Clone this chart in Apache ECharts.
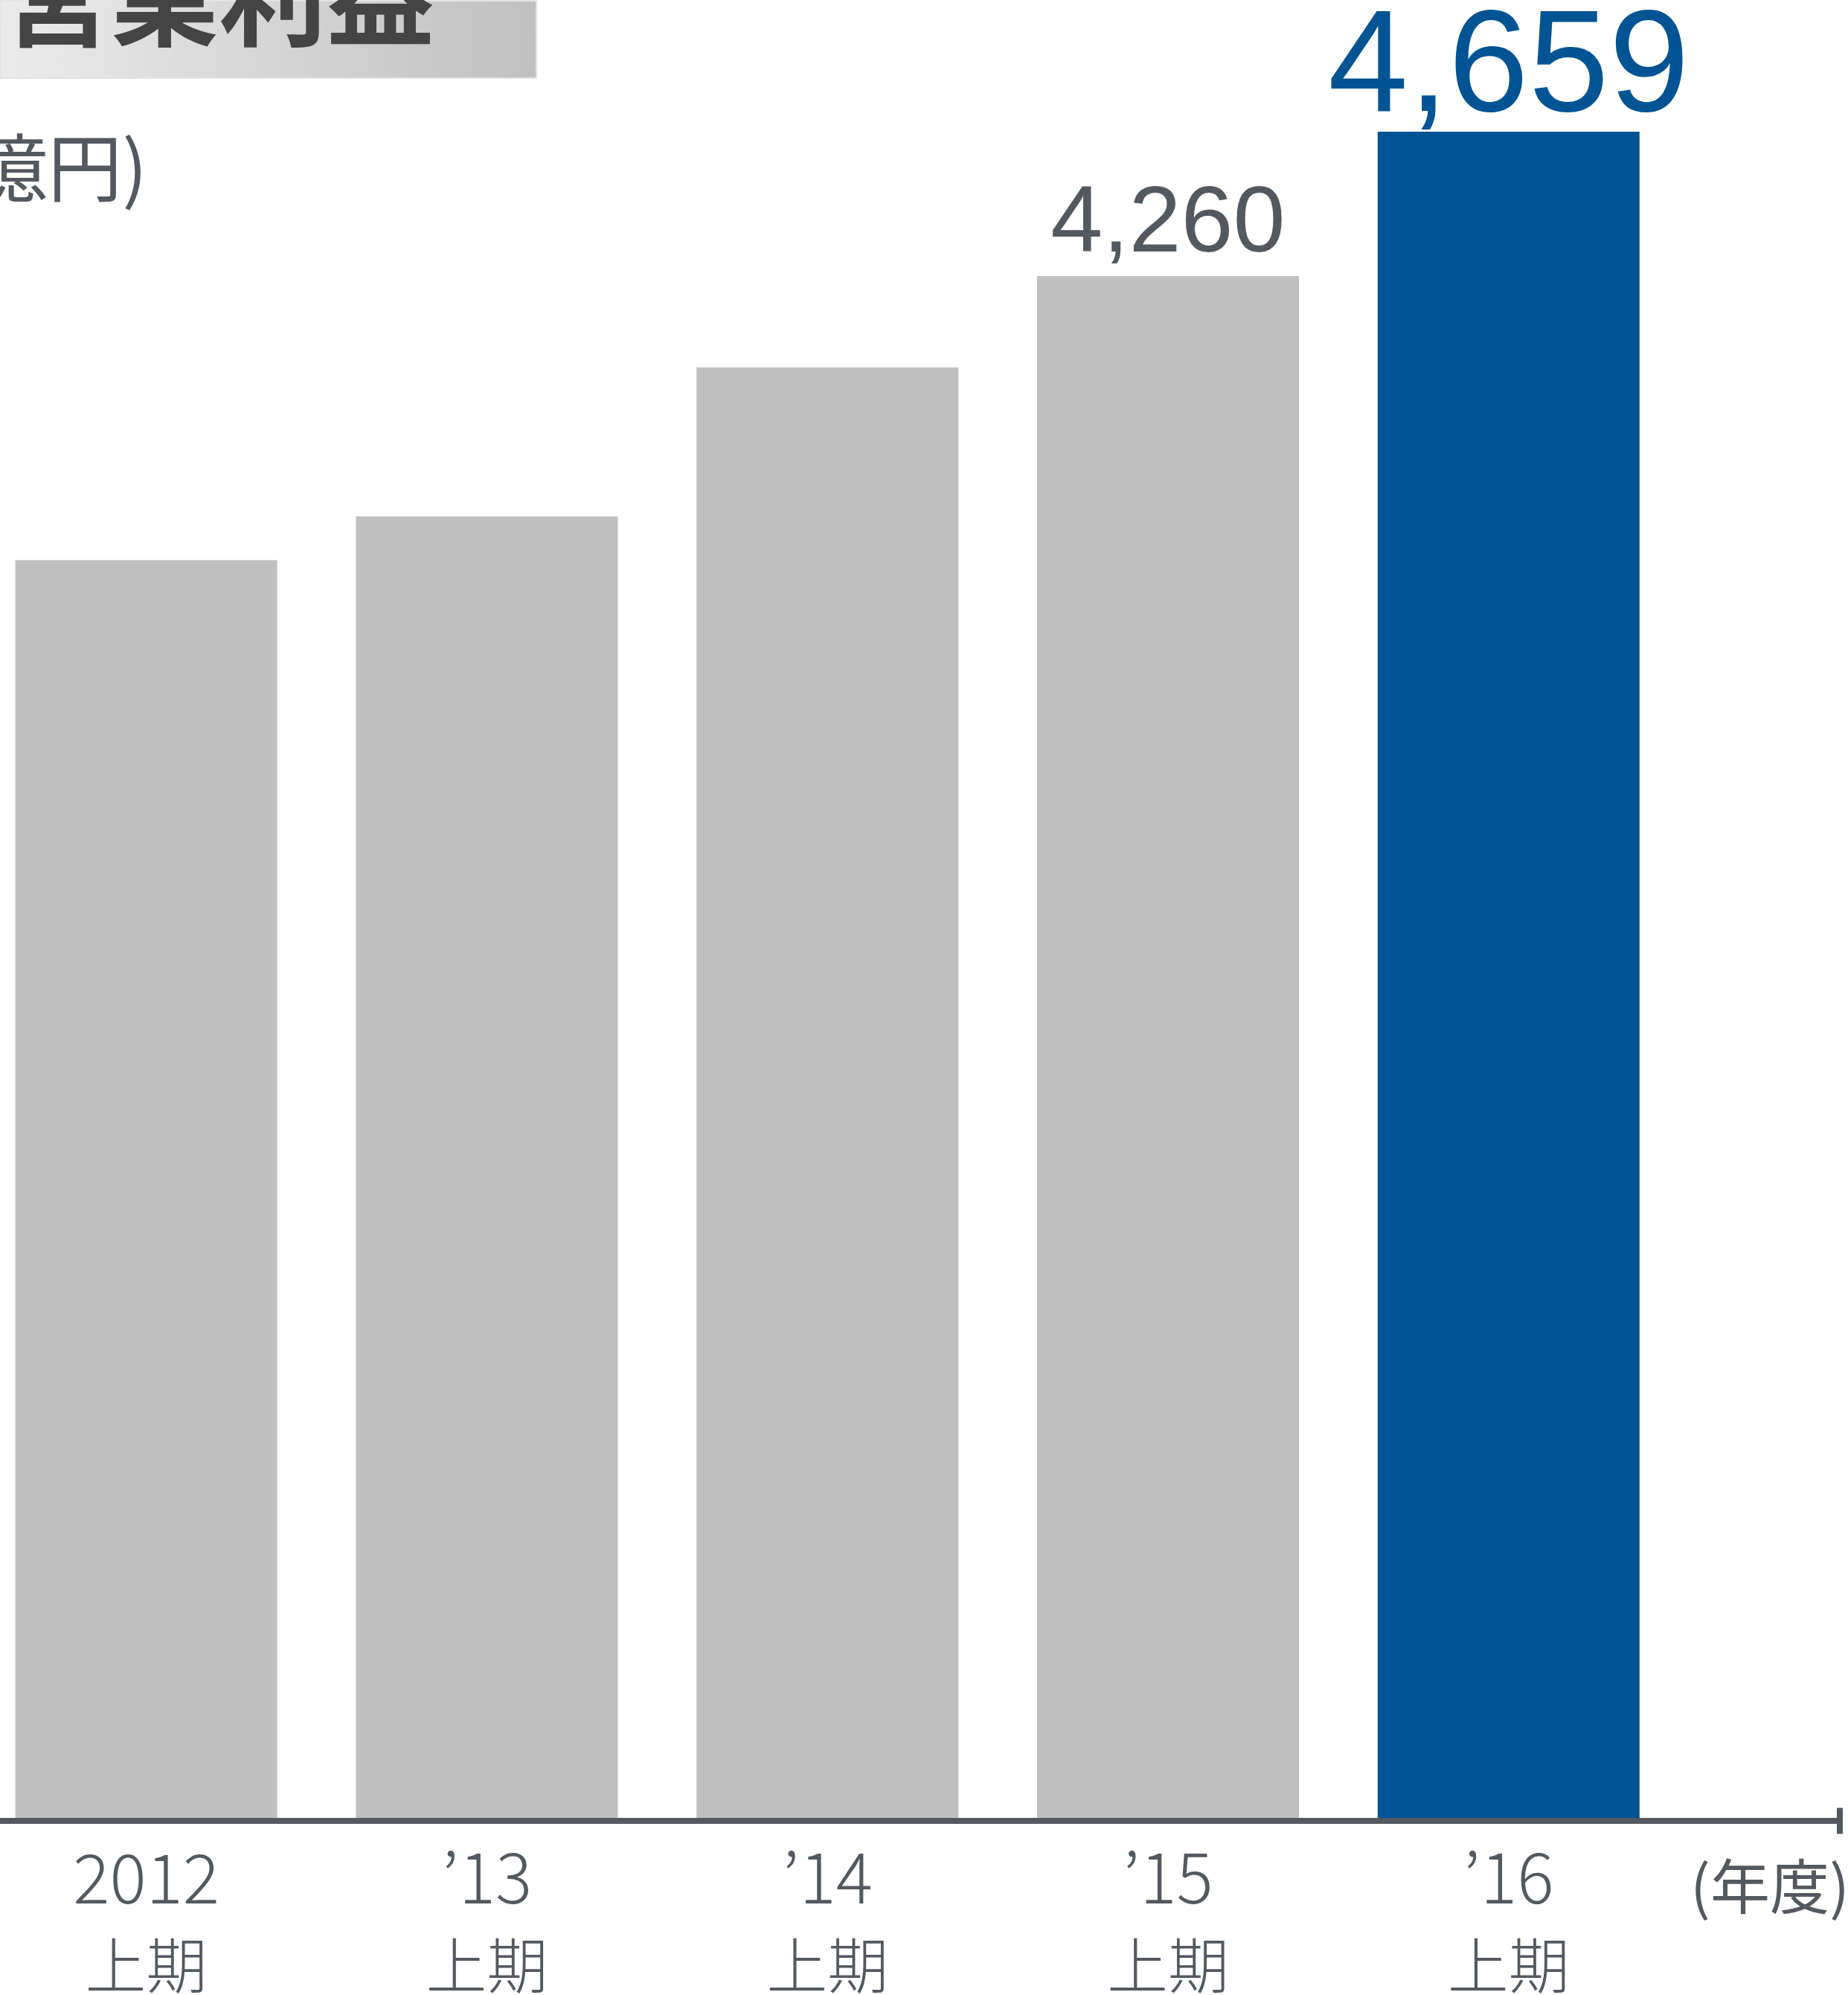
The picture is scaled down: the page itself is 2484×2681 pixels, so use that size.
<!DOCTYPE html>
<html>
<head>
<meta charset="utf-8">
<style>
  html, body { margin: 0; padding: 0; background: #ffffff; }
  #chart { width: 2484px; height: 2681px; }
</style>
<script src="https://cdn.jsdelivr.net/npm/echarts@6/dist/echarts.min.js"></script>
</head>
<body>
<div id="chart"></div>
<script>
// 営業利益（上期）, 単位: 億円
const years = ['2012', '’13', '’14', '’15', '’16'];
const halves = ['上期', '上期', '上期', '上期', '上期'];
const profits = [3475, 3596, 4008, 4260, 4659];
const labelledBars = [3, 4];        // bars that carry a value label
const highlightBar = 4;             // latest period, drawn in blue

const GRAY = '#bfbfbf';
const BLUE = '#005494';
const TEXT = '#54585f';
const JP = '"Noto Sans CJK JP", "Noto Sans", sans-serif';
const NUM = '"Liberation Sans", Arial, sans-serif';

const fmt = v => Number(v).toLocaleString('en-US');

const barData = profits.map((v, i) => {
  const hi = i === highlightBar;
  const item = { value: v, itemStyle: { color: hi ? BLUE : GRAY } };
  if (labelledBars.includes(i)) {
    item.label = {
      show: true,
      position: 'top',
      distance: hi ? -15 : 5,
      fontFamily: NUM,
      fontSize: hi ? 194 : 126,
      color: hi ? BLUE : TEXT,
      formatter: p => fmt(p.value)
    };
  }
  return item;
});

const chart = echarts.init(document.getElementById('chart'), null, { renderer: 'canvas' });

chart.setOption({
  backgroundColor: '#ffffff',
  animation: false,
  grid: [
    { left: -32.3, width: 2289, top: 177, bottom: 238, outerBoundsMode: 'none', containLabel: false },
    { left: 0, right: 11, top: 177, bottom: 234, outerBoundsMode: 'none', containLabel: false }
  ],
  xAxis: [
    {
      type: 'category',
      gridIndex: 0,
      data: years,
      axisLine: { show: false },
      axisTick: { show: false },
      axisLabel: {
        margin: 21,
        formatter: (v, i) => `{y|${v}}\n{p|${halves[i]}}`,
        rich: {
          y: { fontFamily: JP, fontWeight: 300, fontSize: 92, lineHeight: 118, color: TEXT },
          p: { fontFamily: JP, fontWeight: 300, fontSize: 82, lineHeight: 118, color: TEXT }
        }
      }
    },
    {
      type: 'value',
      gridIndex: 1,
      min: 0,
      max: 1,
      axisLine: {
        show: true,
        onZero: false,
        lineStyle: { color: TEXT, width: 8 },
        symbol: ['none', 'rect'],
        symbolSize: [35, 8]
      },
      axisTick: { show: false },
      axisLabel: { show: false },
      splitLine: { show: false }
    }
  ],
  yAxis: [
    { type: 'value', gridIndex: 0, min: 0, max: 4659, show: false },
    { type: 'value', gridIndex: 1, min: 0, max: 1, show: false }
  ],
  series: [
    {
      type: 'bar',
      xAxisIndex: 0,
      yAxisIndex: 0,
      barWidth: 352,
      data: barData
    }
  ],
  graphic: [
    {
      type: 'rect',
      left: 0,
      top: 0,
      shape: { width: 720, height: 104 },
      style: {
        fill: new echarts.graphic.LinearGradient(0, 0, 1, 0, [
          { offset: 0, color: '#ebebeb' },
          { offset: 1, color: '#c0c0c0' }
        ]),
        stroke: '#e4e4e4',
        lineWidth: 2
      },
      z: 1
    },
    {
      type: 'text',
      x: 4,
      y: -4,
      style: {
        text: '営業利益',
        fontFamily: JP,
        fontWeight: 'bold',
        fontSize: 145,
        fill: '#444444',
        align: 'left',
        verticalAlign: 'middle'
      },
      z: 2
    },
    {
      type: 'text',
      x: 198,
      y: 225,
      style: {
        text: '(億円)',
        fontFamily: JP,
        fontSize: 100,
        fill: TEXT,
        align: 'right',
        verticalAlign: 'middle'
      }
    },
    {
      type: 'text',
      x: 2486,
      y: 2535,
      style: {
        text: '(年度)',
        fontFamily: JP,
        fontSize: 80,
        fill: TEXT,
        align: 'right',
        verticalAlign: 'middle'
      }
    }
  ]
});
</script>
</body>
</html>
